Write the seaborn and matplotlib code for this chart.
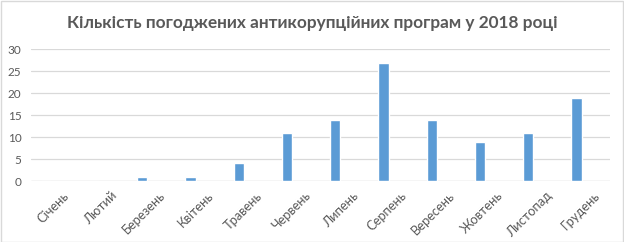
import matplotlib
matplotlib.use("Agg")
import matplotlib.pyplot as plt
import matplotlib.transforms as mtransforms
import seaborn as sns
import pandas as pd

months = ["Січень", "Лютий", "Березень", "Квітень", "Травень", "Червень",
          "Липень", "Серпень", "Вересень", "Жовтень", "Листопад", "Грудень"]
values = [0, 0, 1, 1, 4, 11, 14, 27, 14, 9, 11, 19]
yticks = [0, 5, 10, 15, 20, 25, 30]
title = "Кількість погоджених антикорупційних програм у 2018 році"

sns.set_theme(style="white")
plt.rcParams['font.family'] = ['Lato', 'DejaVu Sans']

df = pd.DataFrame({"month": months, "value": values})

fig = plt.figure(figsize=(6.24, 2.42), dpi=100)
ax = fig.add_axes([0.05, 0.252, 0.928, 0.544])
sns.barplot(data=df, x="month", y="value", color="#5B9BD5", width=0.21,
            saturation=1, ax=ax)
ax.set_ylim(0, 30)
ax.set_yticks(yticks)
ax.yaxis.grid(True, color="#D9D9D9", linewidth=0.9)
ax.set_axisbelow(True)
for s in ax.spines.values():
    s.set_visible(False)
ax.axhline(0, color="#D9D9D9", linewidth=0.9, zorder=0)
ax.set_xlabel("")
ax.set_ylabel("")
ax.tick_params(axis="both", length=0, colors="#595959")
ax.tick_params(axis="y", labelsize=8.5, pad=7)
ax.tick_params(axis="x", labelsize=9.3, pad=6)
ax.set_xlim(-0.3, 11.7)
shift = mtransforms.ScaledTranslation(0.17, 0, fig.dpi_scale_trans)
for lbl in ax.get_xticklabels():
    lbl.set_rotation(45)
    lbl.set_ha("right")
    lbl.set_rotation_mode("anchor")
    lbl.set_transform(lbl.get_transform() + shift)
fig.text(0.5, 0.905, title, ha="center", va="center", fontsize=12.4,
         fontweight="bold", color="#595959")
border = plt.Rectangle((0.001, 0.002), 0.997, 0.995, transform=fig.transFigure,
                       fill=False, edgecolor="#D9D9D9", linewidth=1)
fig.patches.append(border)
fig.savefig("out.png", dpi=100)
